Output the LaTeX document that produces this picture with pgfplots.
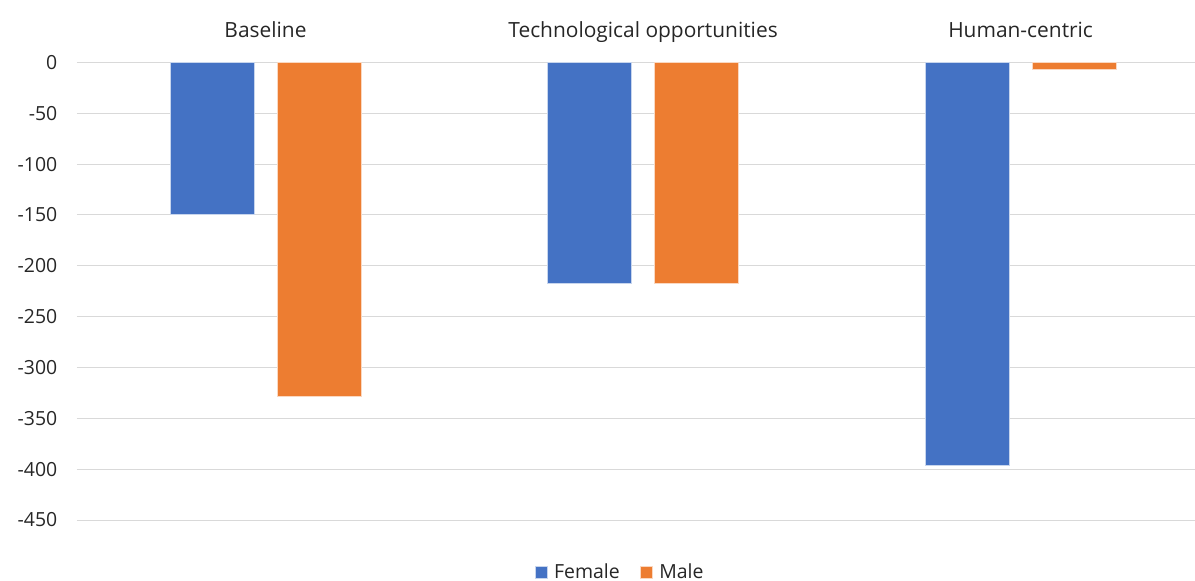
\documentclass[border=0pt]{standalone}
\usepackage{pgfplots}
\pgfplotsset{compat=1.18}
\usepackage{fontspec}
\setmainfont{Open Sans}
\definecolor{fem}{HTML}{4472C4}
\definecolor{mal}{HTML}{ED7D31}
\definecolor{gridc}{HTML}{D9D9D9}
\begin{document}
\begin{tikzpicture}
\begin{axis}[
  at={(76.75bp,61bp)}, anchor=south west,
  scale only axis,
  width=1118.25bp, height=457.5bp,
  xmin=-0.5, xmax=2.462,
  ymin=-450, ymax=0,
  ytick distance=50,
  xtick={0,1,2},
  xticklabels={Baseline,Technological opportunities,Human-centric},
  xticklabel pos=upper,
  major tick length=0,
  axis line style={draw=none},
  ymajorgrids,
  grid style={gridc, line width=1bp},
  tick label style={font=\fontsize{19.5}{22}\selectfont, text=black!85},
  /pgf/number format/assume math mode=true,
  /pgf/number format/1000 sep={},
  yticklabel style={anchor=east, xshift=-16bp},
  xticklabel style={anchor=base, yshift=24.5bp, inner sep=0pt,
    font=\fontsize{21}{24}\selectfont},
  ybar, bar width=0.2225,
  legend style={at={(0.4858,-0.1137)}, anchor=center, draw=none,
    legend columns=2, font=\fontsize{19.5}{22}\selectfont, text=black!85,
    /tikz/every even column/.append style={column sep=18bp}},
  legend image code/.code={\fill[#1] (0bp,-6bp) rectangle (12bp,6bp);
    \path (17bp,0bp);},
]
\addplot[fill=fem, draw=white!70!fem, line width=0.6bp, bar shift=-0.1417]
  coordinates {(0,-149) (1,-217) (2,-396)};
\addplot[fill=mal, draw=white!70!mal, line width=0.6bp, bar shift=0.1417]
  coordinates {(0,-328) (1,-217) (2,-7)};
\legend{Female,Male}
\end{axis}
\pgfresetboundingbox
\path[use as bounding box] (0,0) rectangle (1195bp,581bp);
\end{tikzpicture}
\end{document}
